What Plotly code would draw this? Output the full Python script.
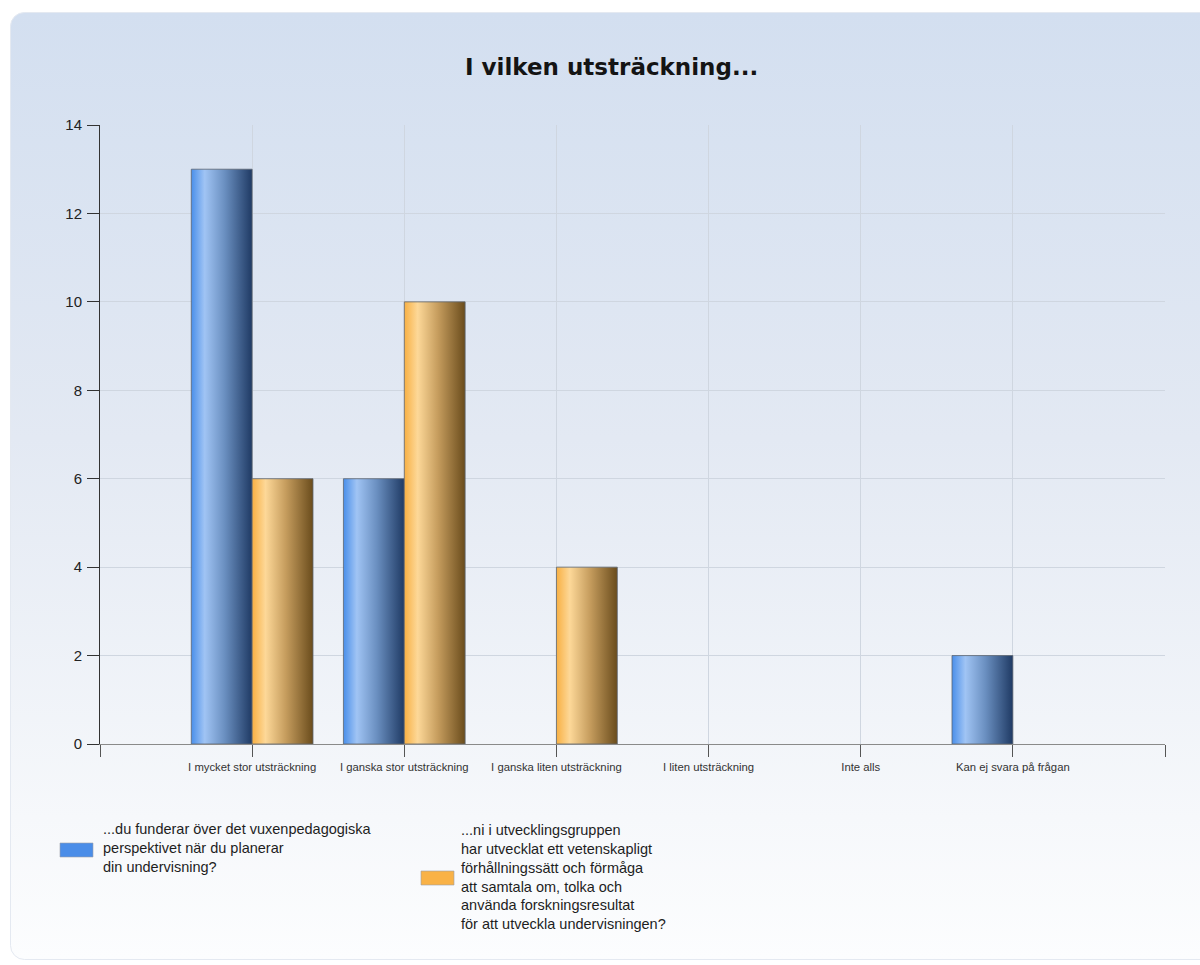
import base64
import plotly.graph_objects as go

# Survey answers: counts per response option for two questions
categories = [
    "I mycket stor utsträckning",
    "I ganska stor utsträckning",
    "I ganska liten utsträckning",
    "I liten utsträckning",
    "Inte alls",
    "Kan ej svara på frågan",
]
series_names = [
    "...du funderar över det vuxenpedagogiska<br>perspektivet när du planerar<br>din undervisning?",
    "...ni i utvecklingsgruppen<br>har utvecklat ett vetenskapligt<br>förhållningssätt och förmåga<br>att samtala om, tolka och<br>använda forskningsresultat<br>för att utveckla undervisningen?",
]
values_a = [13, 6, 0, 0, 0, 2]
values_b = [6, 10, 4, 0, 0, 0]
y_ticks = [0, 2, 4, 6, 8, 10, 12, 14]

series_values = [values_a, values_b]
swatch_colors = ["#4a8de8", "#f9b247"]
gradients = [
    [[0.0, "#4a8fea"], [0.22, "#a0c4f4"], [0.55, "#6a8fc0"], [1.0, "#1f3a64"]],
    [[0.0, "#f8b043"], [0.22, "#fdd898"], [0.55, "#c69d5e"], [1.0, "#6a4c1c"]],
]

W, H = 1200, 965
L, R, T, B = 100, 35, 125, 221
PW, PH = W - L - R, H - T - B


def px_x(x):
    return (x - L) / PW


def px_y(y):
    return (H - B - y) / PH


bar_w = 0.4
fig = go.Figure()

for s, vals in enumerate(series_values):
    for i, v in enumerate(vals):
        if v <= 0:
            continue
        x0 = (i + 1) - bar_w + s * bar_w
        x1 = x0 + bar_w
        fig.add_trace(go.Scatter(
            x=[x0, x1, x1, x0, x0],
            y=[0, 0, v, v, 0],
            mode="lines",
            fill="toself",
            fillgradient=dict(type="horizontal", colorscale=gradients[s]),
            line=dict(color="#5d6470", width=0.8),
            showlegend=False,
            hoverinfo="text",
            text=f"{categories[i]}: {v}",
        ))

# Panel background: rounded box with a soft vertical gradient
svg = f"""<svg xmlns='http://www.w3.org/2000/svg' width='{W}' height='{H}' viewBox='0 0 {W} {H}'>
<defs><linearGradient id='g' x1='0' y1='0' x2='0' y2='1'>
<stop offset='0' stop-color='#d3dff0'/>
<stop offset='0.45' stop-color='#e3e9f3'/>
<stop offset='0.85' stop-color='#f6f8fb'/>
<stop offset='1' stop-color='#fcfdfe'/>
</linearGradient></defs>
<rect x='0' y='0' width='{W}' height='{H}' fill='#ffffff'/>
<rect x='10.5' y='12.5' width='1240' height='947' rx='14' ry='14' fill='url(#g)' stroke='#e4e9f1' stroke-width='1'/>
</svg>"""
src = "data:image/svg+xml;base64," + base64.b64encode(svg.encode()).decode()
fig.add_layout_image(dict(
    source=src, xref="paper", yref="paper",
    x=px_x(0), y=px_y(0), sizex=W / PW, sizey=H / PH,
    xanchor="left", yanchor="top", sizing="stretch", layer="below",
))

# Legend: swatch plus multi-line label for each series
legend_items = [
    dict(sw=(60, 843, 93, 857), tx=101, ty=848),
    dict(sw=(421, 871, 454, 885), tx=459, ty=877),
]
shapes = []
annotations = []
for s, item in enumerate(legend_items):
    x0, y0, x1, y1 = item["sw"]
    shapes.append(dict(
        type="rect", xref="paper", yref="paper",
        x0=px_x(x0), x1=px_x(x1), y0=px_y(y1), y1=px_y(y0),
        fillcolor=swatch_colors[s], line=dict(color="#9aa0a8", width=0.6),
    ))
    annotations.append(dict(
        xref="paper", yref="paper", x=px_x(item["tx"]), y=px_y(item["ty"]),
        xanchor="left", yanchor="middle", align="left", showarrow=False,
        text=series_names[s],
        font=dict(family="Liberation Sans, Arial, sans-serif", size=14.5, color="#1e1e1e"),
    ))

annotations.append(dict(
    xref="paper", yref="paper", x=px_x(611), y=px_y(67),
    xanchor="center", yanchor="middle", showarrow=False,
    text="<b>I vilken utsträckning...</b>",
    font=dict(family="DejaVu Sans, Verdana, sans-serif", size=23, color="#141414"),
))

fig.update_layout(
    width=W, height=H, autosize=False,
    margin=dict(l=L, r=R, t=T, b=B, pad=0),
    paper_bgcolor="white", plot_bgcolor="rgba(0,0,0,0)",
    showlegend=False,
    shapes=shapes, annotations=annotations,
    xaxis=dict(
        range=[0, 7], tickmode="array",
        tickvals=list(range(0, len(categories) + 2)),
        ticktext=[""] + categories + [""],
        showgrid=True, gridcolor="#cfd6e0", gridwidth=1,
        ticks="outside", ticklen=12, tickcolor="#555555",
        showline=True, linecolor="#8a8a8a", linewidth=1.2,
        zeroline=False,
        tickfont=dict(family="Liberation Sans, Arial, sans-serif", size=11.3, color="#333333"),
        fixedrange=True,
    ),
    yaxis=dict(
        range=[0, 14], tickmode="array", tickvals=y_ticks,
        showgrid=True, gridcolor="#cfd6e0", gridwidth=1,
        ticks="outside", ticklen=12, tickcolor="#333333",
        showline=True, linecolor="#333333", linewidth=1,
        zeroline=False, ticklabelstandoff=2,
        tickfont=dict(family="Liberation Sans, Arial, sans-serif", size=15, color="#222222"),
        fixedrange=True,
    ),
)

fig.write_html("out.html")
